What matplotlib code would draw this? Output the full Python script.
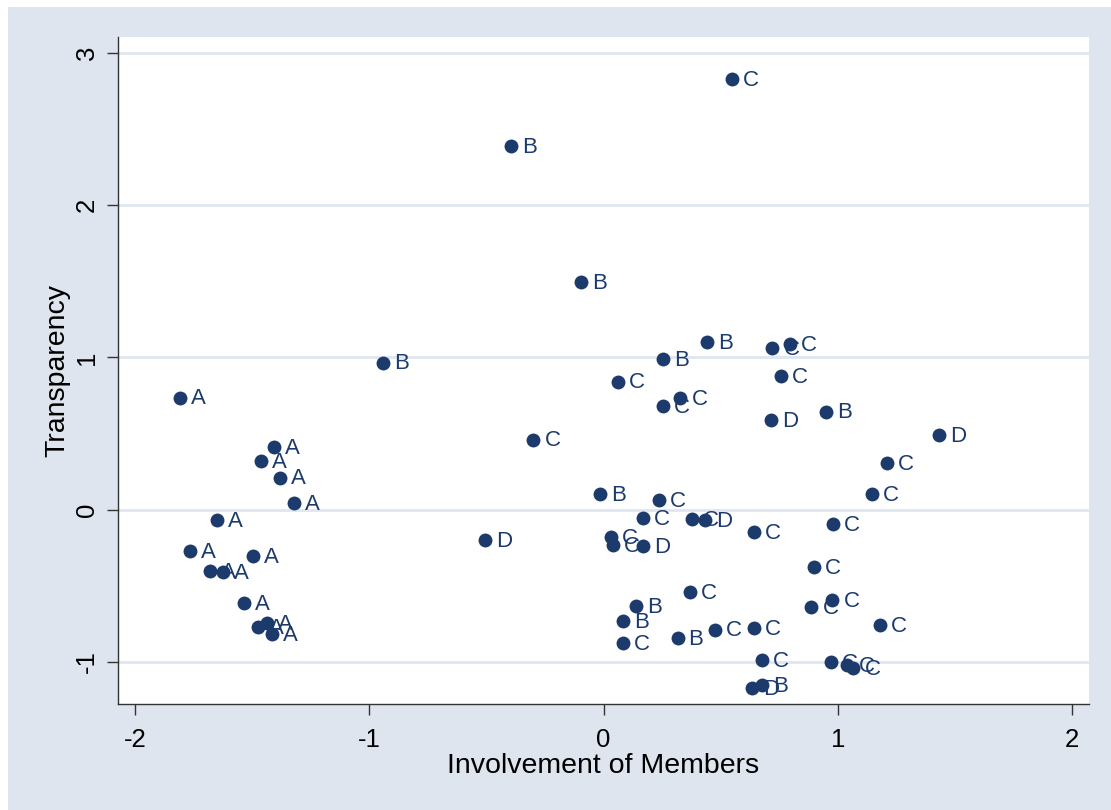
import matplotlib
matplotlib.use("Agg")
import matplotlib.pyplot as plt
from matplotlib.patches import Rectangle

plt.rcParams['font.family'] = ['Liberation Sans', 'DejaVu Sans']
plt.rcParams['axes.unicode_minus'] = False

# --- dados ---
grupo_a_x = [-1.808, -1.406, -1.462, -1.380, -1.321, -1.650, -1.765, -1.496,
             -1.679, -1.624, -1.534, -1.474, -1.436, -1.415]
grupo_a_y = [0.737, 0.414, 0.322, 0.211, 0.046, -0.066, -0.270, -0.303,
             -0.401, -0.408, -0.612, -0.770, -0.743, -0.816]

grupo_b_x = [-0.397, -0.098, -0.940, 0.440, 0.252, 0.949, -0.017, 0.137,
             0.085, 0.316, 0.675]
grupo_b_y = [2.388, 1.493, 0.967, 1.099, 0.987, 0.645, 0.105, -0.632,
             -0.730, -0.842, -1.151]

grupo_c_x = [0.547, 0.060, -0.299, 0.721, 0.795, 0.758, 0.254, 0.328, 1.209,
             1.145, 0.235, 0.167, 0.376, 0.641, 0.030, 0.041, 0.979, 0.897,
             0.368, 0.084, 0.474, 0.643, 0.677, 0.977, 0.888, 1.181, 0.970,
             1.041, 1.067]
grupo_c_y = [2.829, 0.842, 0.461, 1.061, 1.086, 0.880, 0.680, 0.732, 0.309,
             0.105, 0.066, -0.055, -0.064, -0.149, -0.178, -0.232, -0.092,
             -0.375, -0.542, -0.873, -0.787, -0.778, -0.989, -0.594, -0.638,
             -0.757, -1.000, -1.022, -1.037]

grupo_d_x = [0.715, 1.432, 0.433, 0.167, -0.504, 0.632]
grupo_d_y = [0.588, 0.493, -0.068, -0.237, -0.197, -1.171]

grupos = {'A': (grupo_a_x, grupo_a_y), 'B': (grupo_b_x, grupo_b_y),
          'C': (grupo_c_x, grupo_c_y), 'D': (grupo_d_x, grupo_d_y)}

x_ticks = [-2, -1, 0, 1, 2]
y_ticks = [-1, 0, 1, 2, 3]

COR_MARCA = '#1c3a6b'
COR_FUNDO = '#dfe5ef'

fig = plt.figure(figsize=(11.11, 8.10), dpi=100)
fig.patch.set_facecolor('white')
fig.patches.append(Rectangle((8 / 1111, 0), 1, 1 - 7 / 810, transform=fig.transFigure,
                             facecolor=COR_FUNDO, edgecolor='none', zorder=-10))

ax = fig.add_axes([118 / 1111, 1 - 704 / 810, (1089 - 118) / 1111, (704 - 37) / 810])
ax.set_facecolor('white')

for rotulo, (xs, ys) in grupos.items():
    ax.scatter(xs, ys, s=100, color=COR_MARCA, zorder=3, linewidths=0)
    for xi, yi in zip(xs, ys):
        ax.annotate(rotulo, (xi, yi), xytext=(8, -1), textcoords='offset points',
                    ha='left', va='center', fontsize=16, color=COR_MARCA, zorder=4)

ax.set_xlim(-2.073, 2.073)
ax.set_ylim(-1.276, 3.105)
ax.set_xticks(x_ticks)
ax.set_yticks(y_ticks)
ax.set_yticklabels([str(v) for v in y_ticks], rotation=90, va='center')

ax.grid(axis='y', color='#dfe6ef', linewidth=2, zorder=0)
ax.set_axisbelow(True)

for lado in ['top', 'right']:
    ax.spines[lado].set_visible(False)
for lado in ['left', 'bottom']:
    ax.spines[lado].set_color('#333333')
    ax.spines[lado].set_linewidth(1)

ax.tick_params(axis='both', length=8, width=1, color='#333333', labelsize=18.5)
ax.tick_params(axis='x', pad=9)
ax.tick_params(axis='y', pad=6)
ax.set_xlabel('Involvement of Members', fontsize=20.5, labelpad=1)
ax.set_ylabel('Transparency', fontsize=20.5, labelpad=3)

fig.savefig('out.png', dpi=100)
